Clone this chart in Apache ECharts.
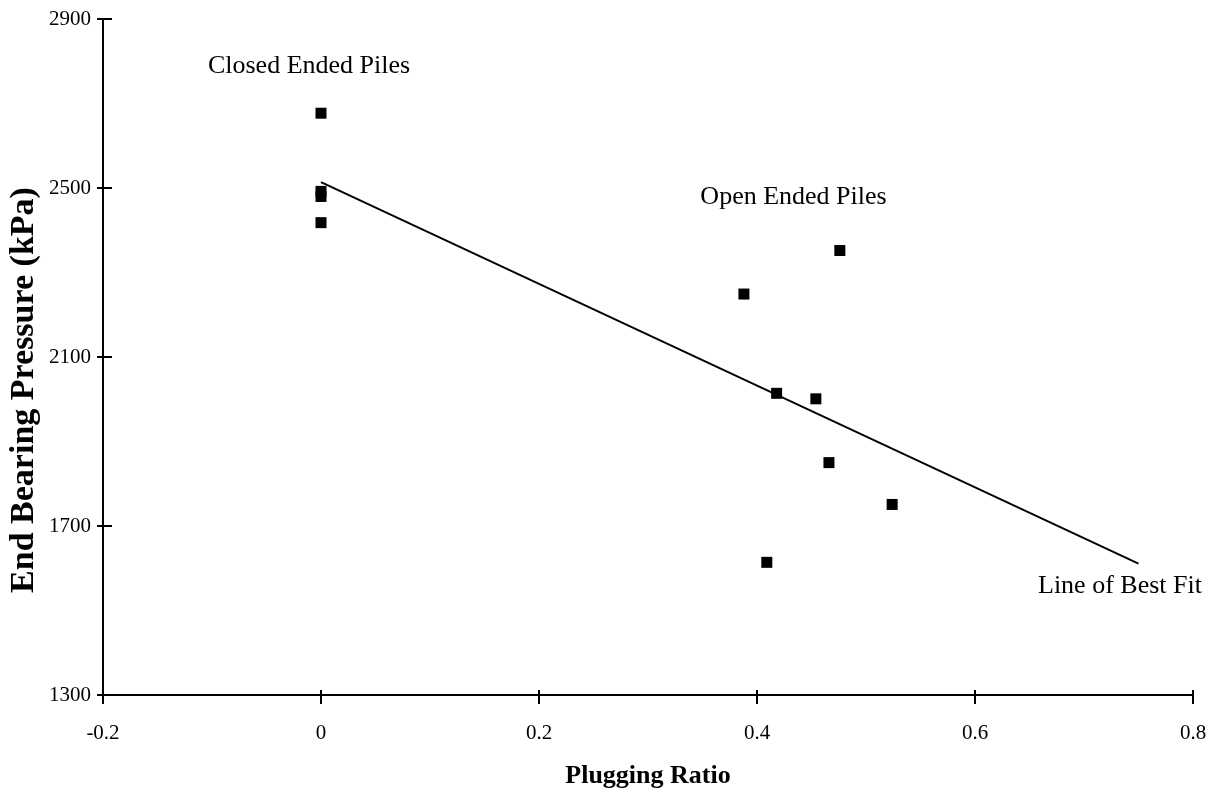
<!DOCTYPE html>
<html>
<head>
<meta charset="utf-8">
<script src="https://cdn.jsdelivr.net/npm/echarts@6/dist/echarts.min.js"></script>
<style>
html,body{margin:0;padding:0;background:#fff;}
#chart{width:1215px;height:794px;}
</style>
</head>
<body>
<div id="chart"></div>
<script>
// Data
var closedX = [0, 0, 0, 0];
var closedY = [2677, 2492, 2480, 2418];
var openX = [0.476, 0.388, 0.418, 0.454, 0.466, 0.524, 0.409];
var openY = [2352, 2249, 2014, 2001, 1850, 1751, 1614];
var fitX = [0, 0.75];
var fitY = [2514, 1611];
var annotText = ['Closed Ended Piles', 'Open Ended Piles', 'Line of Best Fit'];
var annotX = [-0.011, 0.4335, 0.733];
var annotY = [2789, 2479, 1558];
var xTicks = [-0.2, 0, 0.2, 0.4, 0.6, 0.8];
var yTicks = [1300, 1700, 2100, 2500, 2900];

var FONT = "'Liberation Serif','Times New Roman',serif";

function zip(a, b) { return a.map(function (v, i) { return [v, b[i]]; }); }

var chart = echarts.init(document.getElementById('chart'), null, {renderer: 'canvas'});

var GL = 103, GR = 22, GT = 19, GB = 98;
var plotW = 1215 - GL - GR, plotH = 794 - GT - GB;

var xBase = {
  type: 'value', min: xTicks[0], max: xTicks[xTicks.length - 1], interval: 0.2,
  splitLine: {show: false}
};
var yBase = {
  type: 'value', min: yTicks[0], max: yTicks[yTicks.length - 1], interval: 400,
  splitLine: {show: false}
};

var option = {
  backgroundColor: '#ffffff',
  animation: false,
  grid: {left: GL, right: GR, top: GT, bottom: GB, containLabel: false},
  xAxis: [
    Object.assign({}, xBase, {
      position: 'bottom',
      axisLine: {show: true, onZero: false, lineStyle: {color: '#000', width: 2}},
      axisTick: {show: true, inside: false, length: 9, lineStyle: {color: '#000', width: 2}},
      axisLabel: {show: true, color: '#000', fontFamily: FONT, fontSize: 21, margin: 28,
        formatter: function (v) { return String(Math.round(v * 10) / 10); }},
      name: 'Plugging Ratio', nameLocation: 'middle', nameGap: 68,
      nameTextStyle: {color: '#000', fontFamily: FONT, fontSize: 26, fontWeight: 'bold'}
    }),
    // same scale, drawn on the bottom line, ticks pointing into the plot
    Object.assign({}, xBase, {
      position: 'top', offset: -plotH,
      axisLine: {show: false, onZero: false},
      axisTick: {show: true, inside: false, length: 6, lineStyle: {color: '#000', width: 2}},
      axisLabel: {show: false}
    })
  ],
  yAxis: [
    Object.assign({}, yBase, {
      position: 'left',
      axisLine: {show: true, onZero: false, lineStyle: {color: '#000', width: 2}},
      axisTick: {show: true, inside: false, length: 6, lineStyle: {color: '#000', width: 2}},
      axisLabel: {show: true, color: '#000', fontFamily: FONT, fontSize: 21, margin: 12,
        formatter: function (v) { return String(v); }}
    }),
    Object.assign({}, yBase, {
      position: 'right', offset: -plotW,
      axisLine: {show: false, onZero: false},
      axisTick: {show: true, inside: false, length: 9, lineStyle: {color: '#000', width: 2}},
      axisLabel: {show: false}
    })
  ],
  graphic: [{
    type: 'text',
    x: 24, y: 390,
    rotation: Math.PI / 2,
    style: {
      text: 'End Bearing Pressure (kPa)',
      fill: '#000', font: 'bold 34px ' + FONT,
      textAlign: 'center', textVerticalAlign: 'middle'
    }
  }],
  series: [
    {
      type: 'line', data: zip(fitX, fitY), xAxisIndex: 0, yAxisIndex: 0,
      symbol: 'none', lineStyle: {color: '#000', width: 2}, z: 2
    },
    {
      type: 'scatter', data: zip(closedX, closedY), xAxisIndex: 0, yAxisIndex: 0,
      symbol: 'rect', symbolSize: 11, itemStyle: {color: '#000', opacity: 1}, z: 3
    },
    {
      type: 'scatter', data: zip(openX, openY), xAxisIndex: 0, yAxisIndex: 0,
      symbol: 'rect', symbolSize: 11, itemStyle: {color: '#000', opacity: 1}, z: 3
    },
    {
      type: 'scatter', xAxisIndex: 1, yAxisIndex: 1,
      data: annotX.map(function (x, i) { return {value: [x, annotY[i]], name: annotText[i]}; }),
      symbolSize: 0, silent: true, itemStyle: {opacity: 1},
      label: {show: true, position: 'inside', formatter: '{b}', color: '#000',
        fontFamily: FONT, fontSize: 26}
    }
  ]
};
chart.setOption(option);
</script>
</body>
</html>
